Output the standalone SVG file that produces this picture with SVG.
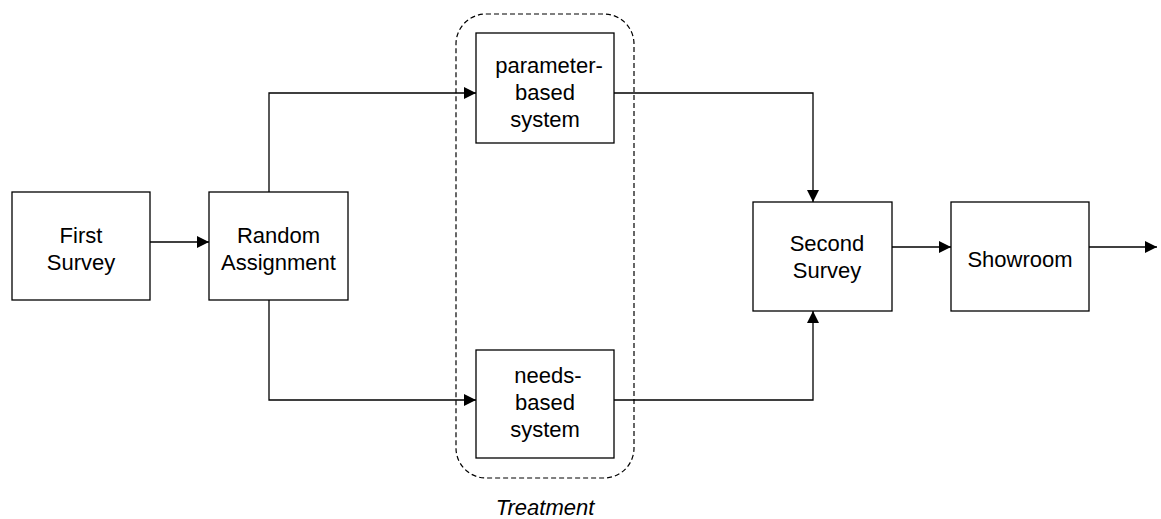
<svg xmlns="http://www.w3.org/2000/svg" width="1161" height="519" viewBox="0 0 1161 519">
<style>
.box{fill:#fff;stroke:#000;stroke-width:1.3}
.t{font-family:"Liberation Sans",Arial,sans-serif;font-size:22px;fill:#000;text-anchor:middle}
.c{fill:none;stroke:#000;stroke-width:1.3}
</style>
<defs>
<marker id="ah" viewBox="0 0 12 12" refX="12" refY="6" markerWidth="12" markerHeight="12" markerUnits="userSpaceOnUse" orient="auto">
<path d="M0,0 L12,6 L0,12 Z" fill="#000"/>
</marker>
</defs>
<rect x="456" y="14" width="178" height="464" rx="30" ry="30" fill="none" stroke="#000" stroke-width="1.2" stroke-dasharray="5,3"/>
<text class="t" x="545" y="515" font-style="italic">Treatment</text>
<g id="connectors">
<path class="c" d="M150,242 H209" marker-end="url(#ah)"/>
<path class="c" d="M269,192 V93 H476" marker-end="url(#ah)"/>
<path class="c" d="M269,300 V400 H476" marker-end="url(#ah)"/>
<path class="c" d="M614,93 H813 V202" marker-end="url(#ah)"/>
<path class="c" d="M614,400 H813 V311" marker-end="url(#ah)"/>
<path class="c" d="M892,247 H951" marker-end="url(#ah)"/>
<path class="c" d="M1089,247 H1157" marker-end="url(#ah)"/>
</g>
<g id="first-survey">
<rect class="box" x="12" y="192" width="138" height="108"/>
<text class="t" x="81" y="243">First</text>
<text class="t" x="81" y="270">Survey</text>
</g>
<g id="random-assignment">
<rect class="box" x="209" y="192" width="139" height="108"/>
<text class="t" x="278.5" y="243">Random</text>
<text class="t" x="278.5" y="270">Assignment</text>
</g>
<g id="parameter-based">
<rect class="box" x="476" y="33" width="138" height="110"/>
<text class="t" x="549" y="73">parameter-</text>
<text class="t" x="545" y="100">based</text>
<text class="t" x="545" y="127">system</text>
</g>
<g id="needs-based">
<rect class="box" x="476" y="350" width="138" height="108"/>
<text class="t" x="548" y="383">needs-</text>
<text class="t" x="545" y="410">based</text>
<text class="t" x="545" y="437">system</text>
</g>
<g id="second-survey">
<rect class="box" x="753" y="202" width="139" height="109"/>
<text class="t" x="827" y="251">Second</text>
<text class="t" x="827" y="278">Survey</text>
</g>
<g id="showroom">
<rect class="box" x="951" y="202" width="138" height="109"/>
<text class="t" x="1020" y="267">Showroom</text>
</g>
</svg>
